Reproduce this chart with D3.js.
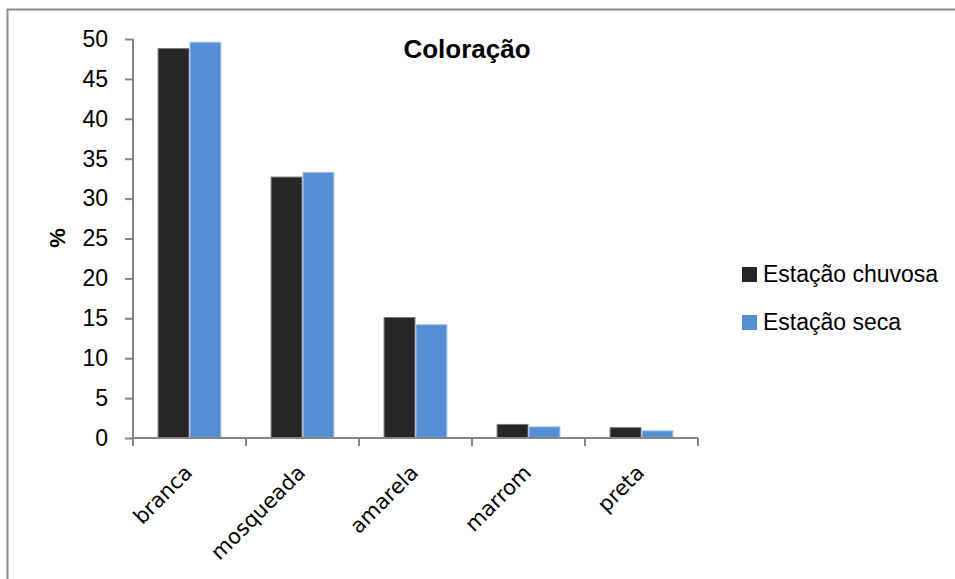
<!DOCTYPE html>
<html>
<head>
<meta charset="utf-8">
<script src="https://cdn.jsdelivr.net/npm/d3@7"></script>
<style>
  html, body { margin: 0; padding: 0; background: #fff; }
  svg { display: block; }
</style>
</head>
<body>
<svg id="chart" width="955" height="579"></svg>
<script>
// Coloração das amostras por estação (%)
const categories = ["branca", "mosqueada", "amarela", "marrom", "preta"];
const seriesNames = ["Estação chuvosa", "Estação seca"];
const chuvosa = [48.8, 32.7, 15.1, 1.7, 1.3];
const seca = [49.6, 33.3, 14.2, 1.4, 0.9];
const yTicks = [0, 5, 10, 15, 20, 25, 30, 35, 40, 45, 50];
const colors = ["#262626", "#558ed5"];
const strokes = ["#7a7a7a", "#a9c4ea"];

const svg = d3.select("#chart");
const W = 955, H = 579;

// outer frame (runs past the right and bottom edges)
svg.append("rect")
  .attr("x", 7.5).attr("y", 9.5)
  .attr("width", W + 20).attr("height", H + 20)
  .attr("fill", "none").attr("stroke", "#8c8c8c").attr("stroke-width", 2);

const plot = { left: 133, right: 698, top: 39, bottom: 438 };

const x0 = d3.scaleBand().domain(categories).range([plot.left, plot.right]).paddingInner(0).paddingOuter(0);
const x1 = d3.scaleBand().domain(seriesNames).range([0, x0.bandwidth()]).paddingInner(0).paddingOuter(0.77);
const y = d3.scaleLinear().domain([0, 50]).range([plot.bottom, plot.top]);

const table = categories.map((c, i) => ({ cat: c, values: [chuvosa[i], seca[i]] }));

// bars
const groups = svg.append("g").selectAll("g").data(table).join("g")
  .attr("transform", d => `translate(${x0(d.cat)},0)`);
groups.selectAll("rect").data(d => d.values.map((v, j) => ({ v, j })))
  .join("rect")
  .attr("x", d => x1(seriesNames[d.j]) + 0.5)
  .attr("y", d => y(d.v))
  .attr("width", x1.bandwidth() - 1)
  .attr("height", d => y(0) - y(d.v))
  .attr("fill", d => colors[d.j])
  .attr("stroke", d => strokes[d.j])
  .attr("stroke-width", 1);

const axisColor = "#868686";

// y axis
const yAxis = svg.append("g")
  .attr("transform", `translate(${plot.left},0)`)
  .call(d3.axisLeft(y).tickValues(yTicks).tickSize(8).tickPadding(17));
yAxis.select(".domain").attr("stroke", axisColor).attr("stroke-width", 2)
  .attr("d", `M0,${plot.top}V${plot.bottom}`);
yAxis.selectAll(".tick line").attr("stroke", axisColor).attr("stroke-width", 2);
yAxis.selectAll(".tick text")
  .attr("fill", "#000")
  .style("font-family", "'Liberation Sans', Arial, sans-serif")
  .style("font-size", "23px");

// x axis: ticks on category boundaries
const xAxisG = svg.append("g").attr("transform", `translate(0,${plot.bottom})`);
xAxisG.append("line")
  .attr("x1", plot.left).attr("x2", plot.right)
  .attr("y1", 0).attr("y2", 0)
  .attr("stroke", axisColor).attr("stroke-width", 2);
const boundaries = categories.map(c => x0(c)).concat([x0(categories[categories.length - 1]) + x0.bandwidth()]);
xAxisG.selectAll("line.tk").data(boundaries).join("line")
  .attr("class", "tk")
  .attr("x1", d => d).attr("x2", d => d)
  .attr("y1", 0).attr("y2", 8)
  .attr("stroke", axisColor).attr("stroke-width", 2);
xAxisG.selectAll("text").data(categories).join("text")
  .attr("transform", d => `translate(${x0(d) + x0.bandwidth() / 2 + 4},${36}) rotate(-45)`)
  .attr("text-anchor", "end")
  .attr("fill", "#000")
  .style("font-family", "'DejaVu Sans', Verdana, sans-serif")
  .style("font-size", "21px")
  .text(d => d);

// y axis title
svg.append("text")
  .attr("transform", `translate(65,238) rotate(-90)`)
  .attr("text-anchor", "middle")
  .style("font-family", "'Liberation Sans', Arial, sans-serif")
  .style("font-weight", "bold")
  .style("font-size", "22px")
  .text("%");

// chart title
svg.append("text")
  .attr("x", 467).attr("y", 58)
  .attr("text-anchor", "middle")
  .style("font-family", "'Liberation Sans', Arial, sans-serif")
  .style("font-weight", "bold")
  .style("font-size", "26px")
  .text("Coloração");

// legend
const legend = svg.append("g");
seriesNames.forEach((name, i) => {
  const yy = 274 + i * 48;
  legend.append("rect")
    .attr("x", 742).attr("y", yy - 7)
    .attr("width", 15).attr("height", 15)
    .attr("fill", colors[i]);
  legend.append("text")
    .attr("x", 763).attr("y", yy + 8)
    .style("font-family", "'Liberation Sans', Arial, sans-serif")
    .style("font-size", "23px")
    .attr("fill", "#000")
    .text(name);
});
</script>
</body>
</html>
